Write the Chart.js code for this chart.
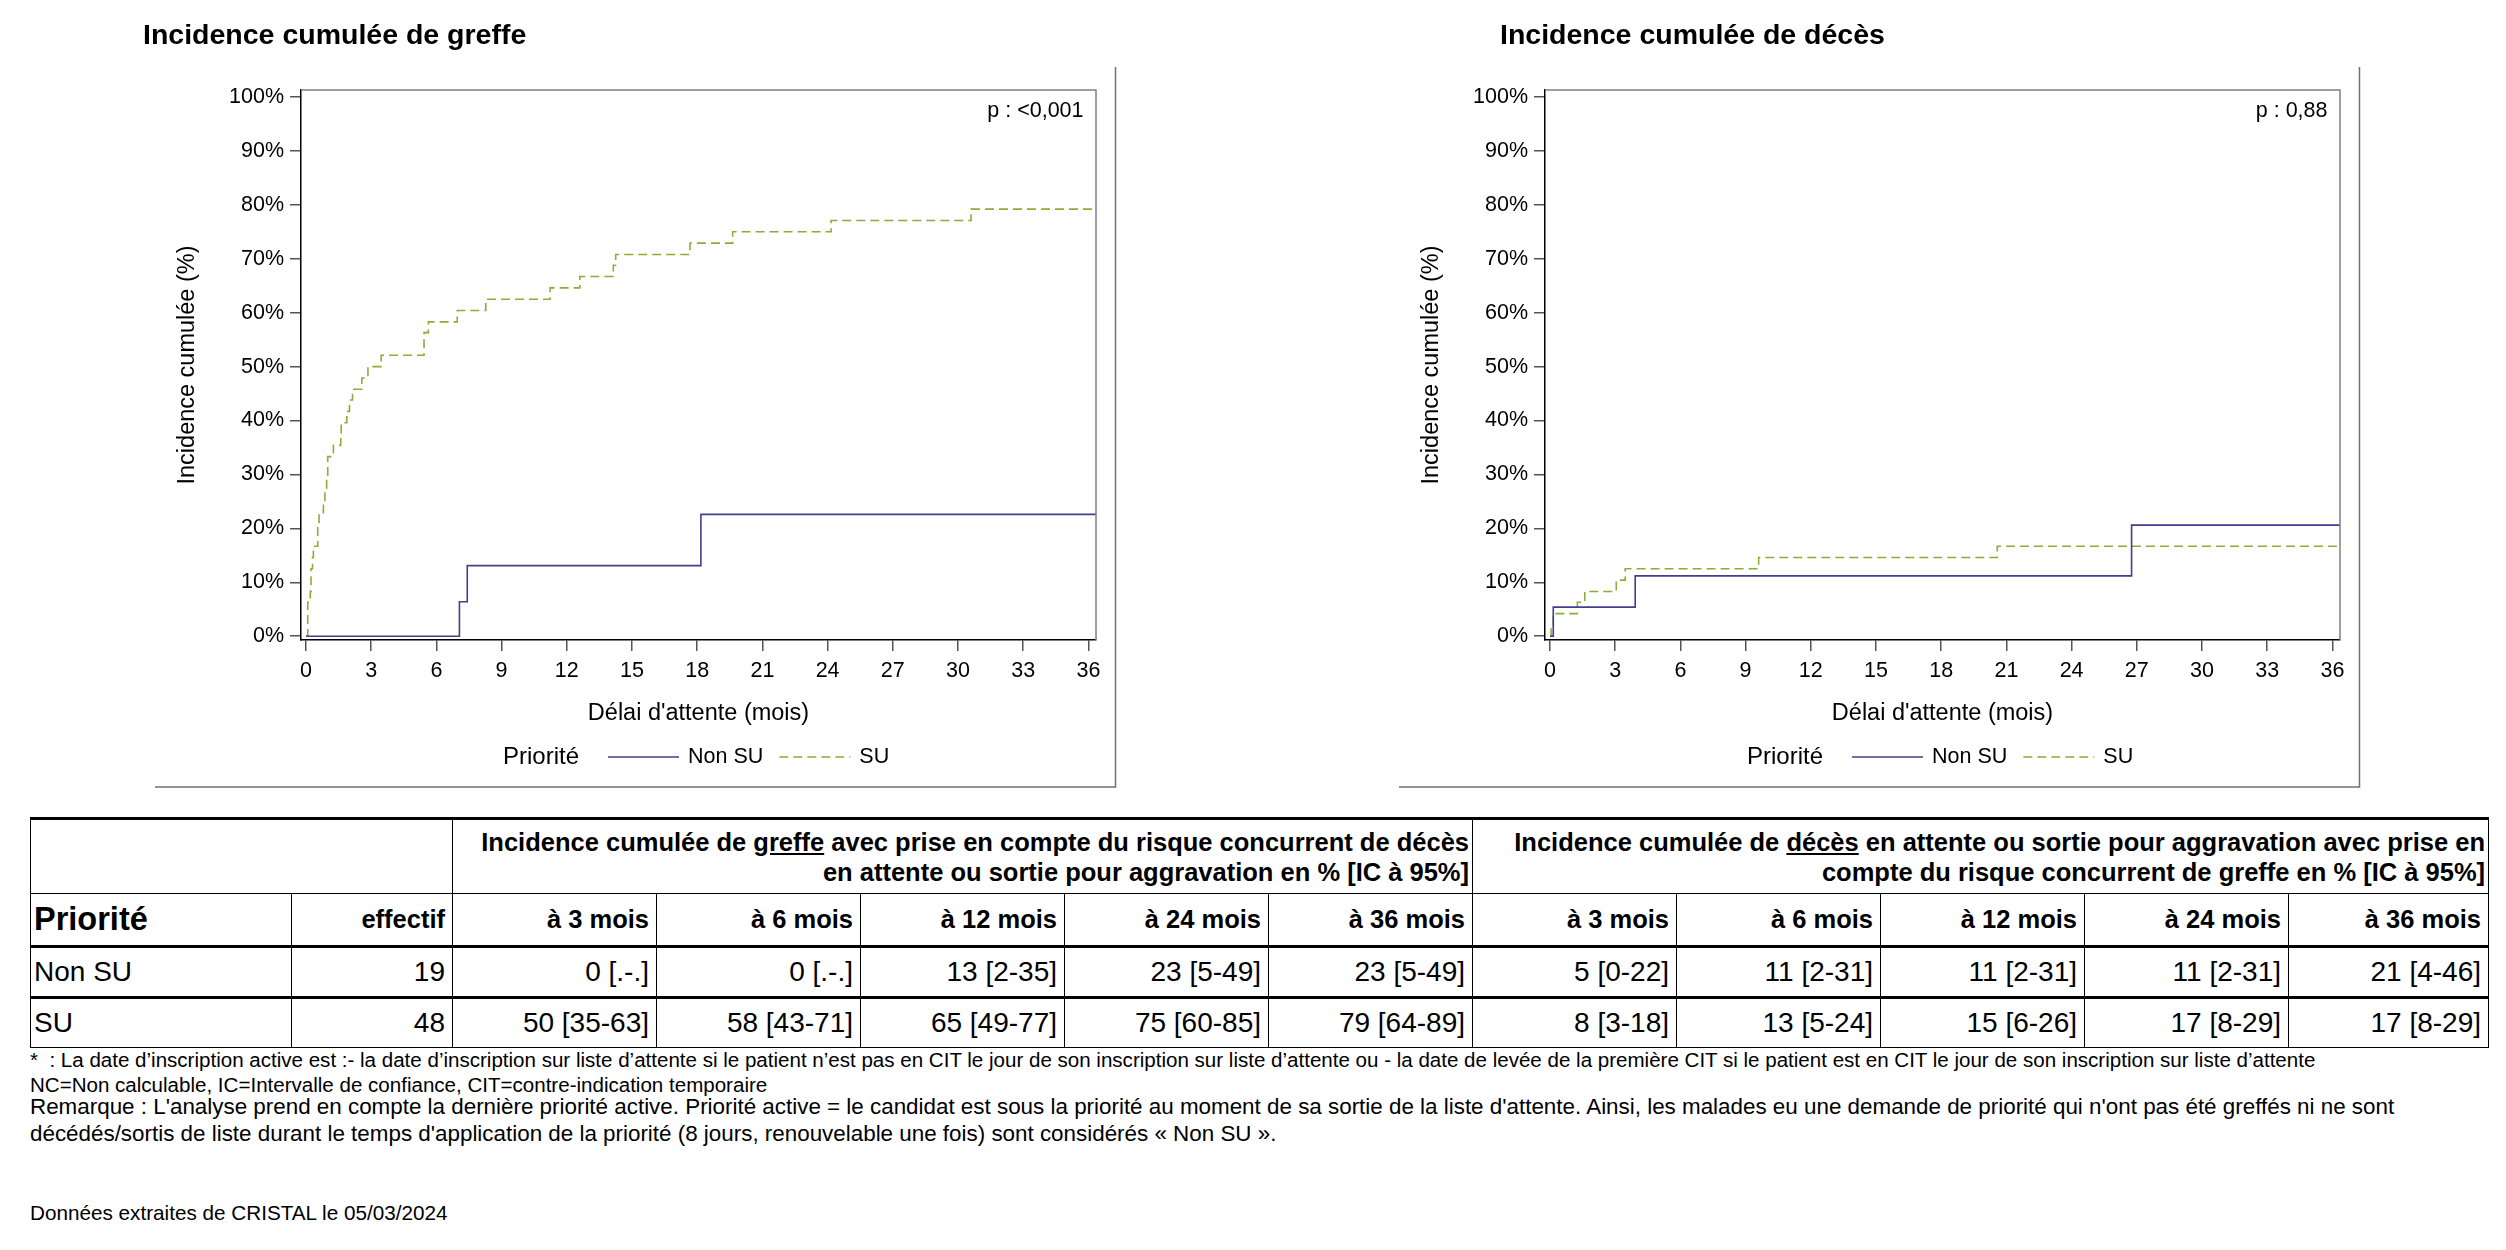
<!DOCTYPE html>
<html lang="fr">
<head>
<meta charset="utf-8">
<title>Incidence cumulée</title>
<script src="https://cdn.jsdelivr.net/npm/chart.js@4.4.1/dist/chart.umd.min.js"></script>
<style>
  html, body { margin:0; padding:0; background:#fff; }
  body { width:2506px; height:1250px; position:relative; overflow:hidden; font-family:"Liberation Sans", Arial, sans-serif; color:#000; }
  .panel { position:absolute; top:0; width:1130px; height:800px; }
  #tbl { position:absolute; left:30px; top:817px; border-collapse:collapse; table-layout:fixed; width:2459px; }
  #tbl td, #tbl th { border:1px solid #000; padding:0 7px 0 3px; text-align:right; vertical-align:middle; white-space:nowrap; overflow:visible; }
  #tbl tr.h1 td, #tbl tr.h1 th { border-top:3px solid #000; height:73px; font-weight:bold; font-size:25.5px; line-height:30px; padding-right:3px; }
  #tbl tr.h2 th { height:51px; font-size:25.5px; font-weight:bold; border-bottom:3px solid #000; }
  #tbl tr.h2 th.prio { text-align:left; font-size:32.5px; }
  #tbl tr.r td { font-size:28px; height:48px; font-weight:normal; }
  #tbl tr.r1 td { border-bottom:3px solid #000; }
  #tbl td.lab { text-align:left; }
  #notes1 { position:absolute; left:30px; top:1048px; font-size:20.55px; line-height:24.8px; white-space:nowrap; }
  #notes2 { position:absolute; left:30px; top:1094px; font-size:22.4px; line-height:26.9px; white-space:nowrap; }
  #src { position:absolute; left:30px; top:1201px; font-size:20.7px; line-height:24.8px; white-space:nowrap; }
</style>
</head>
<body>
<div class="panel" style="left:0px"><canvas id="c1" width="1130" height="800" style="width:1130px;height:800px"></canvas></div>
<div class="panel" style="left:1244px"><canvas id="c2" width="1130" height="800" style="width:1130px;height:800px"></canvas></div>
<table id="tbl"></table>
<div id="notes1">*&nbsp; : La date d’inscription active est :- la date d’inscription sur liste d’attente si le patient n’est pas en CIT le jour de son inscription sur liste d’attente ou - la date de levée de la première CIT si le patient est en CIT le jour de son inscription sur liste d’attente<br>NC=Non calculable, IC=Intervalle de confiance, CIT=contre-indication temporaire</div>
<div id="notes2">Remarque : L'analyse prend en compte la dernière priorité active. Priorité active = le candidat est sous la priorité au moment de sa sortie de la liste d'attente. Ainsi, les malades eu une demande de priorité qui n'ont pas été greffés ni ne sont<br>décédés/sortis de liste durant le temps d'application de la priorité (8 jours, renouvelable une fois) sont considérés « Non SU ».</div>
<div id="src">Données extraites de CRISTAL le 05/03/2024</div>
<script>
// ---------------- DATA ----------------
const xTickValues = [0, 3, 6, 9, 12, 15, 18, 21, 24, 27, 30, 33, 36];
const yTickValues = [0, 10, 20, 30, 40, 50, 60, 70, 80, 90, 100];
const seriesNames = ['Non SU', 'SU'];

// Greffe (transplant) cumulative incidence, % – step points (time in months)
const greffeNonSUTime = [0, 7.06, 7.42, 18.17, 36.35];
const greffeNonSUPct  = [0, 6.4, 13.1, 22.6, 22.6];
const greffeSUTime = [0, 0.08, 0.2, 0.23, 0.3, 0.34, 0.54, 0.6, 0.8, 0.87, 0.95, 1.0, 1.26, 1.6, 1.62, 1.88, 2.0, 2.14, 2.57, 2.85, 3.46, 5.43, 5.63, 6.96, 8.27, 11.23, 12.6, 14.14, 14.25, 17.67, 19.63, 24.16, 30.6, 36.35];
const greffeSUPct  = [0, 6.3, 8.3, 12.5, 14.6, 16.7, 20.8, 22.9, 25.0, 27.1, 29.2, 33.3, 35.4, 37.5, 39.6, 41.7, 43.8, 45.8, 47.9, 50.0, 52.1, 56.3, 58.3, 60.4, 62.5, 64.6, 66.7, 68.8, 70.8, 72.9, 75.0, 77.1, 79.2, 79.2];

// Décès (death) cumulative incidence, %
const decesNonSUTime = [0, 0.15, 3.92, 26.76, 36.35];
const decesNonSUPct  = [0, 5.4, 11.2, 20.6, 20.6];
const decesSUTime = [0, 0.05, 0.15, 1.26, 1.6, 3.05, 3.46, 9.6, 20.58, 36.35];
const decesSUPct  = [0, 2.1, 4.2, 6.3, 8.3, 10.4, 12.5, 14.6, 16.7, 16.7];

const pGreffe = 'p : <0,001';
const pDeces = 'p : 0,88';

// Table
const tablePriorities = ['Non SU', 'SU'];
const tableEffectifs = [19, 48];
const tableHorizons = ['à 3 mois', 'à 6 mois', 'à 12 mois', 'à 24 mois', 'à 36 mois'];
const tableGreffeNonSU = ['0 [.-.]', '0 [.-.]', '13 [2-35]', '23 [5-49]', '23 [5-49]'];
const tableGreffeSU    = ['50 [35-63]', '58 [43-71]', '65 [49-77]', '75 [60-85]', '79 [64-89]'];
const tableDecesNonSU  = ['5 [0-22]', '11 [2-31]', '11 [2-31]', '11 [2-31]', '21 [4-46]'];
const tableDecesSU     = ['8 [3-18]', '13 [5-24]', '15 [6-26]', '17 [8-29]', '17 [8-29]'];

// ---------------- STYLE ----------------
const FONT = '"Liberation Sans", Arial, sans-serif';
const colorNonSU = '#3f3f90';
const colorSU = '#8cad38';
const dashSU = [9, 5];

Chart.defaults.font.family = FONT;
Chart.defaults.color = '#000';

function pts(xs, ys) { return xs.map((x, i) => ({ x: x, y: ys[i] })); }

const decor = {
  id: 'decor',
  afterDraw(chart, args, o) {
    const { ctx, chartArea: a } = chart;
    ctx.save();
    // plot frame (top / right)
    ctx.strokeStyle = '#808080';
    ctx.lineWidth = 1.5;
    ctx.beginPath();
    ctx.moveTo(a.left, a.top); ctx.lineTo(a.right, a.top); ctx.lineTo(a.right, a.bottom);
    ctx.stroke();
    // panel border (right / bottom)
    ctx.strokeStyle = '#707070';
    ctx.beginPath();
    ctx.moveTo(o.boxRight, o.boxTop); ctx.lineTo(o.boxRight, o.boxBottom); ctx.lineTo(o.boxLeft, o.boxBottom);
    ctx.stroke();
    // title
    ctx.fillStyle = '#000';
    ctx.textAlign = 'left';
    ctx.textBaseline = 'alphabetic';
    ctx.font = 'bold 28.5px ' + FONT;
    ctx.fillText(o.title, o.titleX, 44);
    // p value
    ctx.font = '21.5px ' + FONT;
    ctx.textAlign = 'right';
    ctx.fillText(o.pText, a.right - 12.5, a.top + 27);
    // legend
    const ly = 757;
    let x = a.left + 202;
    ctx.textAlign = 'left';
    ctx.textBaseline = 'middle';
    ctx.font = '24px ' + FONT;
    ctx.fillText('Priorité', x, ly);
    x += ctx.measureText('Priorité').width + 29;
    ctx.font = '21.5px ' + FONT;
    chart.data.datasets.forEach((ds, i) => {
      ctx.strokeStyle = ds.borderColor;
      ctx.lineWidth = ds.borderWidth;
      ctx.setLineDash(ds.borderDash || []);
      ctx.beginPath(); ctx.moveTo(x, ly); ctx.lineTo(x + 71, ly); ctx.stroke();
      ctx.setLineDash([]);
      x += 71 + 9;
      ctx.fillStyle = '#000';
      ctx.fillText(ds.label, x, ly);
      x += ctx.measureText(ds.label).width + 16;
    });
    ctx.restore();
  }
};

function makeChart(id, nonSU, su, title, titleX, pText) {
  return new Chart(document.getElementById(id), {
    type: 'line',
    data: {
      datasets: [
        { label: seriesNames[0], data: nonSU, borderColor: colorNonSU, borderWidth: 1.6, stepped: 'before', pointRadius: 0, fill: false },
        { label: seriesNames[1], data: su, borderColor: colorSU, borderWidth: 1.6, borderDash: dashSU, stepped: 'before', pointRadius: 0, fill: false }
      ]
    },
    options: {
      responsive: false,
      devicePixelRatio: 1,
      animation: false,
      events: [],
      layout: { padding: { left: 150, top: 90, right: 34, bottom: 60 } },
      plugins: {
        legend: { display: false },
        tooltip: { enabled: false },
        title: { display: false },
        decor: { title: title, titleX: titleX, pText: pText, boxLeft: 155, boxRight: 1115.5, boxTop: 67, boxBottom: 787 }
      },
      scales: {
        x: {
          type: 'linear', min: -0.23, max: 36.35,
          afterBuildTicks: (s) => { s.ticks = xTickValues.map(v => ({ value: v })); },
          afterFit: (s) => { s.height = 100; },
          grid: { drawOnChartArea: false, drawTicks: true, tickLength: 11, color: '#555', lineWidth: 1.5 },
          border: { display: true, color: '#000', width: 1.5 },
          ticks: { padding: 7, font: { size: 21.5 }, color: '#000', maxRotation: 0, autoSkip: false },
          title: { display: true, text: "Délai d'attente (mois)", font: { size: 23.5 }, color: '#000', padding: { top: 0, bottom: 12 } }
        },
        y: {
          type: 'linear', min: -0.7, max: 101.3,
          afterBuildTicks: (s) => { s.ticks = yTickValues.map(v => ({ value: v })); },
          afterFit: (s) => { s.width = 151; },
          grid: { drawOnChartArea: false, drawTicks: true, tickLength: 11, color: '#555', lineWidth: 1.5 },
          border: { display: true, color: '#000', width: 1.5 },
          ticks: { padding: 6, font: { size: 21.5 }, color: '#000', callback: (v) => v + '%' },
          title: { display: true, text: 'Incidence cumulée (%)', font: { size: 23.5 }, color: '#000', padding: { top: 23, bottom: 0 } }
        }
      }
    },
    plugins: [decor]
  });
}

makeChart('c1', pts(greffeNonSUTime, greffeNonSUPct), pts(greffeSUTime, greffeSUPct), 'Incidence cumulée de greffe', 143, pGreffe);
makeChart('c2', pts(decesNonSUTime, decesNonSUPct), pts(decesSUTime, decesSUPct), 'Incidence cumulée de décès', 256, pDeces);

// ---------------- TABLE ----------------
(function buildTable() {
  const t = document.getElementById('tbl');
  const widths = [261, 161, 204, 204, 204, 204, 204, 204, 204, 204, 204, 200];
  let h = '<colgroup>' + widths.map(w => '<col style="width:' + w + 'px">').join('') + '</colgroup>';
  h += '<tr class="h1"><td colspan="2"></td>' +
       '<th colspan="5">Incidence cumulée de <u>greffe</u> avec prise en compte du risque concurrent de décès<br>en attente ou sortie pour aggravation en % [IC à 95%]</th>' +
       '<th colspan="5">Incidence cumulée de <u>décès</u> en attente ou sortie pour aggravation avec prise en<br>compte du risque concurrent de greffe en % [IC à 95%]</th></tr>';
  h += '<tr class="h2"><th class="prio">Priorité</th><th>effectif</th>' +
       tableHorizons.map(s => '<th>' + s + '</th>').join('') +
       tableHorizons.map(s => '<th>' + s + '</th>').join('') + '</tr>';
  const g = [tableGreffeNonSU, tableGreffeSU];
  const d = [tableDecesNonSU, tableDecesSU];
  tablePriorities.forEach((p, i) => {
    h += '<tr class="r r' + (i + 1) + '"><td class="lab">' + p + '</td><td>' + tableEffectifs[i] + '</td>' +
         g[i].map(s => '<td>' + s + '</td>').join('') +
         d[i].map(s => '<td>' + s + '</td>').join('') + '</tr>';
  });
  t.innerHTML = h;
})();
</script>
</body>
</html>
